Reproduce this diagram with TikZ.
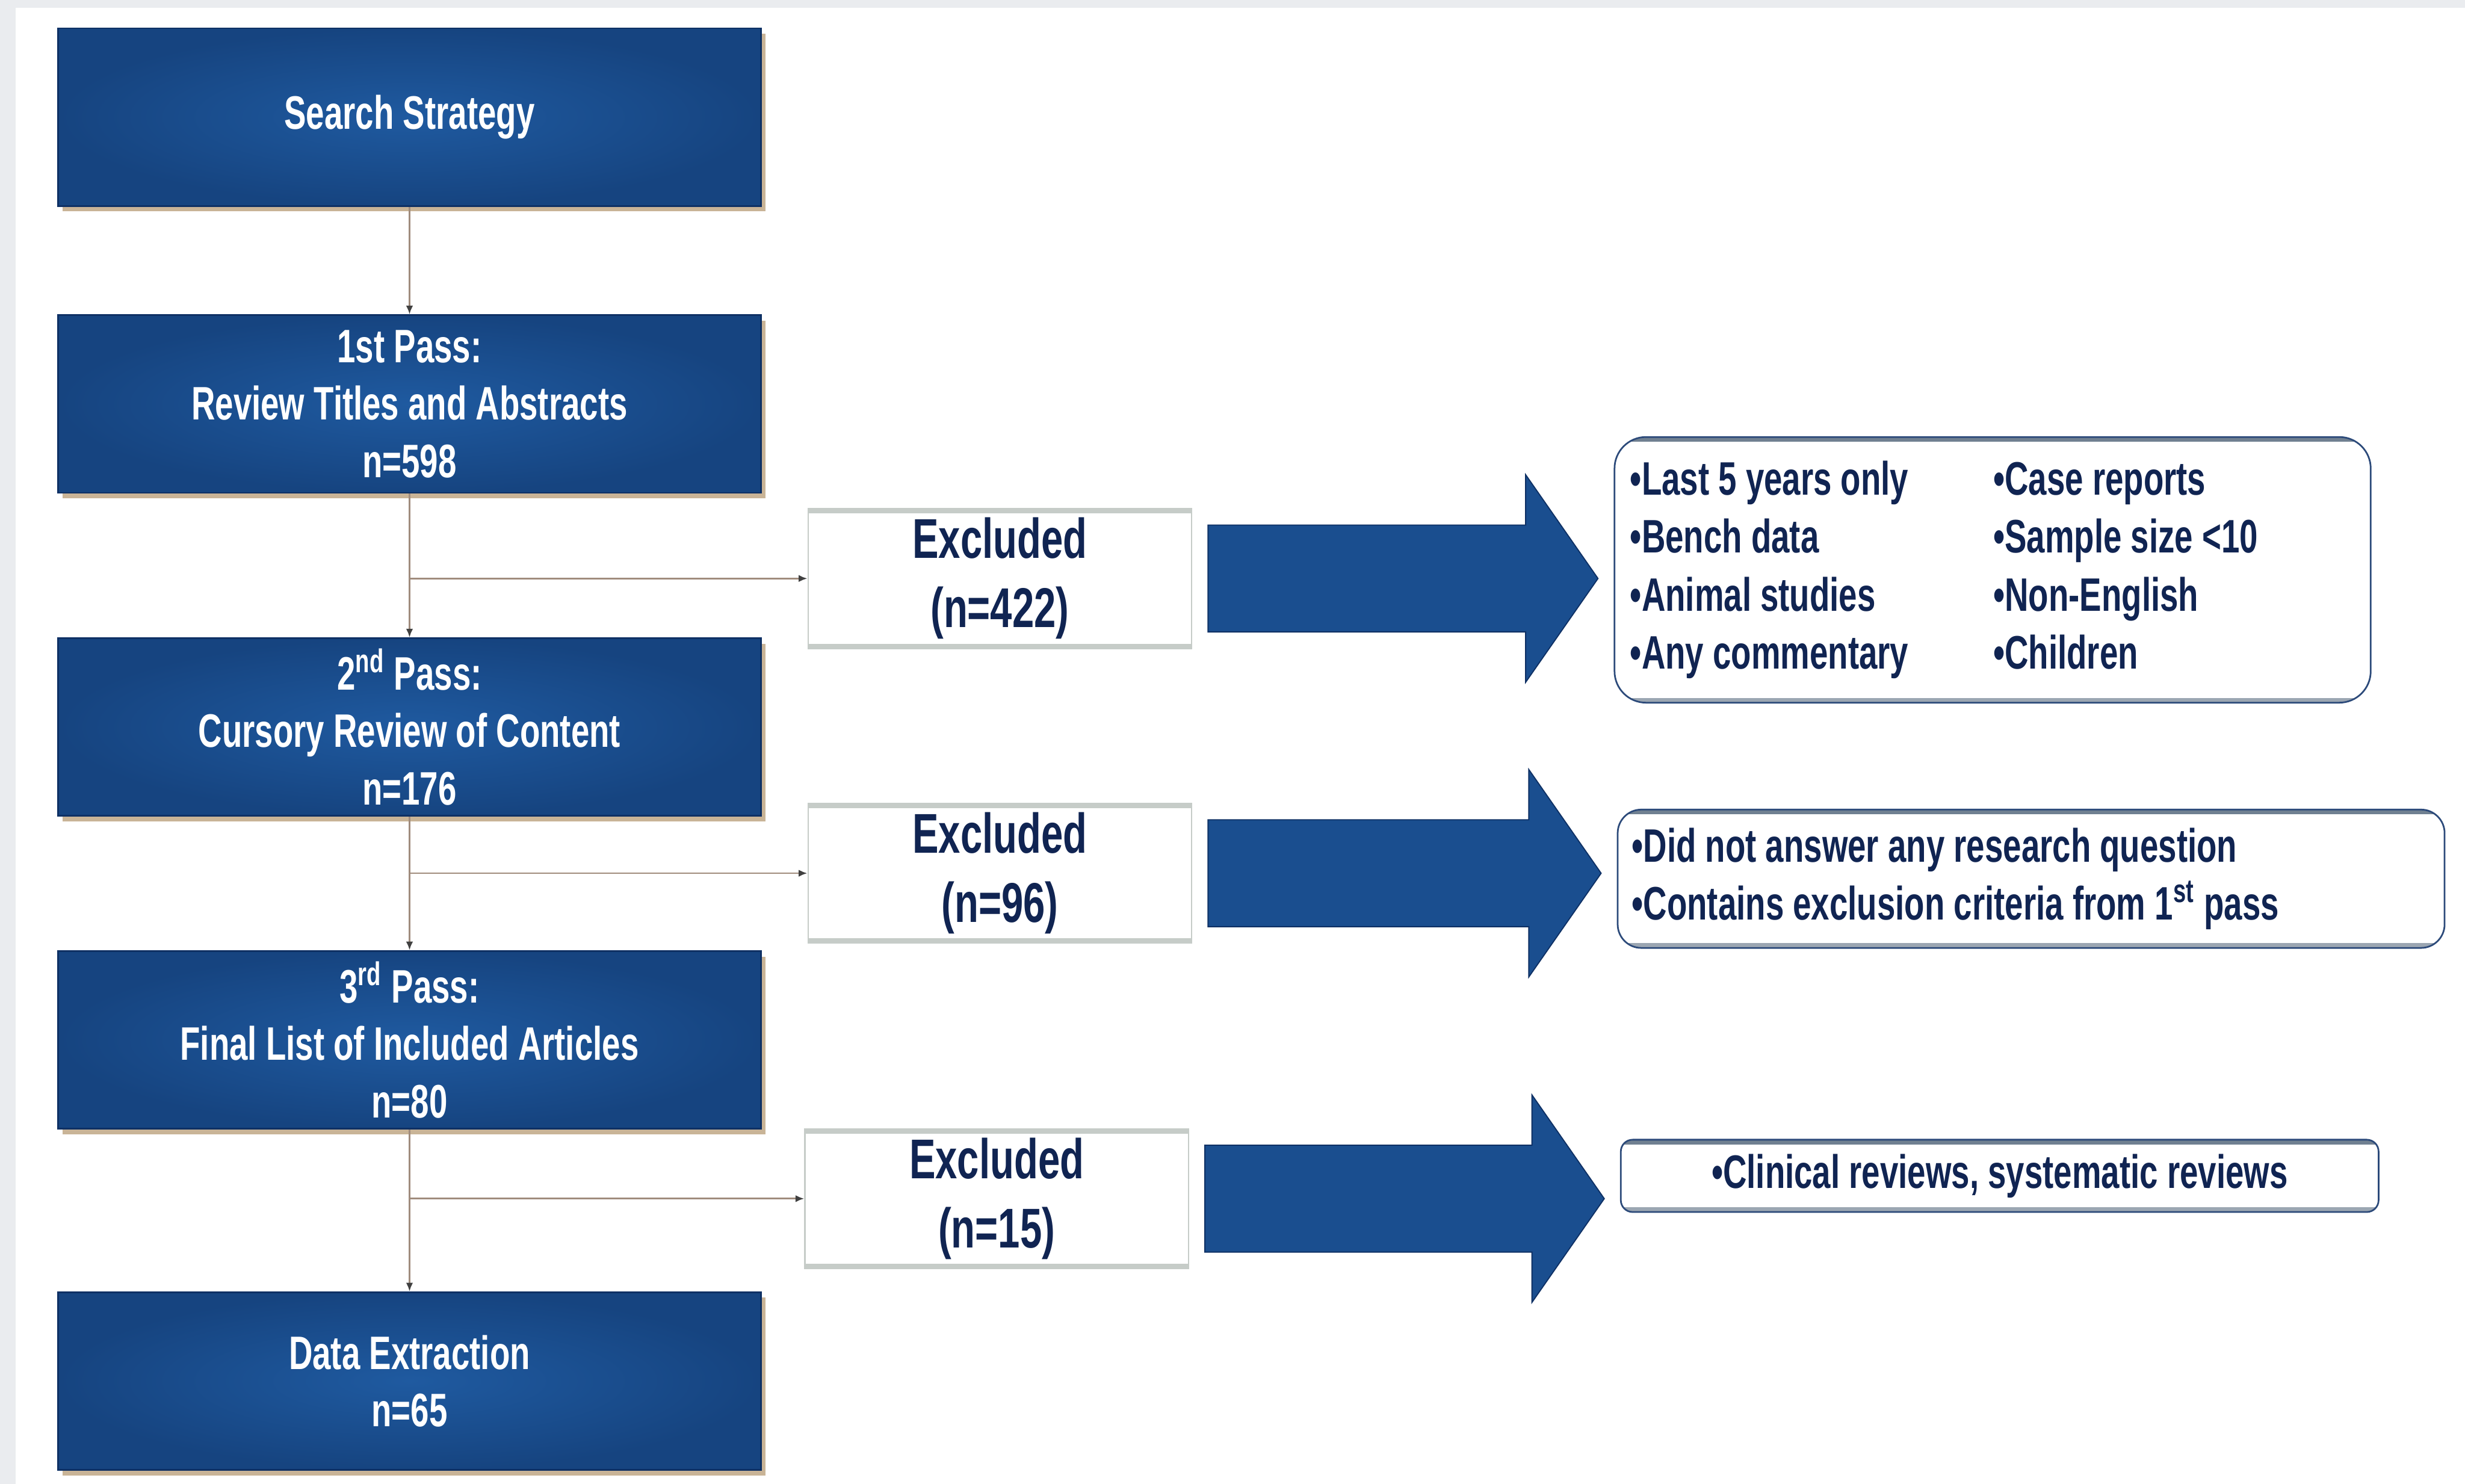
\documentclass[tikz,border=0pt]{standalone}
\usepackage{fontspec}
\setmainfont{Liberation Sans}[FakeStretch=0.7]
\usetikzlibrary{calc,positioning,arrows.meta,shadows}

% fat arrow from an excluded box to its reason box
\newcommand{\blockarrow}[2]{%
  \path[bigarrow] let \p1 = ($(#1.east)+(0.2,0)$), \p2 = ($(#1.east -| #2.west)+(-0.2,0)$) in
    (\x1, \y1+0.68cm) -- (\x2-0.92cm, \y1+0.68cm) -- (\x2-0.92cm, \y1+1.32cm) -- (\x2, \y1)
    -- (\x2-0.92cm, \y1-1.32cm) -- (\x2-0.92cm, \y1-0.68cm) -- (\x1, \y1-0.68cm) -- cycle;}
\newcommand{\firstcol}[1]{\makebox[4.62cm][l]{#1}}

\begin{document}
\begin{tikzpicture}[
    font=\bfseries,
    >=latex,
]

\definecolor{passColor}{RGB}{26, 78, 143}
\definecolor{passInner}{RGB}{31, 90, 160}
\definecolor{passOuter}{RGB}{22, 68, 128}
\definecolor{passEdge}{RGB}{14, 48, 100}
\definecolor{shadowColor}{RGB}{196, 172, 140}
\definecolor{linkColor}{RGB}{160, 140, 125}
\definecolor{textNavy}{RGB}{16, 36, 82}
\definecolor{barGray}{RGB}{198, 204, 200}
\definecolor{barSlate}{RGB}{112, 128, 145}
\definecolor{reasonEdge}{RGB}{44, 74, 122}
\definecolor{frameGray}{RGB}{234, 236, 239}

\tikzset{
    pass/.style = {rectangle, minimum width=8.94cm, minimum height=2.26cm, align=center,
                   draw=passEdge, line width=0.6pt, inner color=passInner, outer color=passOuter,
                   text=white, font={\fontsize{17}{20.8}\selectfont\bfseries},
                   drop shadow={shadow xshift=0.6mm, shadow yshift=-0.7mm, fill=shadowColor, opacity=0.9}},
    excluded/.style = {rectangle, minimum width=4.88cm, minimum height=1.76cm, align=center,
                   draw=barGray, line width=0.5pt, fill=white, text=textNavy,
                   font={\fontsize{20.3}{25}\selectfont\bfseries},
                   path picture={
                     \draw[barGray, line width=0.12cm] (path picture bounding box.north west) -- (path picture bounding box.north east);
                     \draw[barGray, line width=0.12cm] (path picture bounding box.south west) -- (path picture bounding box.south east);}},
    reason/.style = {rectangle, rounded corners=0.35cm, draw=reasonEdge, line width=0.6pt, fill=white,
                   text=textNavy, font={\fontsize{17}{21}\selectfont\bfseries},
                   execute at begin node={\spaceskip=\fontdimen2\font\relax},
                   path picture={
                     \draw[barSlate, line width=0.12cm] (path picture bounding box.north west) -- (path picture bounding box.north east);
                     \draw[barSlate!70, line width=0.12cm] (path picture bounding box.south west) -- (path picture bounding box.south east);}},
    link/.style = {draw=linkColor, line width=0.6pt, -{Latex[length=1.1mm, width=0.9mm, color=black!75]}},
    bigarrow/.style = {fill=passColor, draw=passEdge, line width=0.4pt},
}

\useasboundingbox (0,0) rectangle (31.36,18.88);
\fill[frameGray] (0,0) rectangle (31.36,18.88);
\fill[white] (0.2,0) rectangle (31.36,18.78);

% =========== SCREENING PASSES ===========
\node[pass] (search) at (5.21, 17.39) {Search Strategy};
\node[pass] (pass1) at (5.21, 13.74) {1st Pass:\\Review Titles and Abstracts\\n=598};
\node[pass] (pass2) at (5.21, 9.63) {2\textsuperscript{nd} Pass:\\Cursory Review of Content\\n=176};
\node[pass] (pass3) at (5.21, 5.65) {3\textsuperscript{rd} Pass:\\Final List of Included Articles\\n=80};
\node[pass] (extract) at (5.21, 1.31) {Data Extraction\\n=65};

\draw[link] (search) -- (pass1);
\draw[link] (pass1) -- (pass2);
\draw[link] (pass2) -- (pass3);
\draw[link] (pass3) -- (extract);

% =========== EXCLUDED ===========
\node[excluded] (ex1) at (12.72, 11.52) {Excluded\\(n=422)};
\node[excluded] (ex2) at (12.72, 7.77) {Excluded\\(n=96)};
\node[excluded] (ex3) at (12.68, 3.63) {Excluded\\(n=15)};

\draw[link] (pass1.south |- ex1.west) -- (ex1.west);
\draw[link] (pass2.south |- ex2.west) -- (ex2.west);
\draw[link] (pass3.south |- ex3.west) -- (ex3.west);

% =========== REASONS ===========
\node[reason, rounded corners=0.4cm, inner xsep=0.2cm, text width=9.22cm, minimum height=3.38cm, align=left]
    (why1) at (25.35, 11.63) {
    \firstcol{•Last 5 years only}•Case reports\\
    \firstcol{•Bench data}•Sample size <10\\
    \firstcol{•Animal studies}•Non-English\\
    \firstcol{•Any commentary}•Children
};
\node[reason, rounded corners=0.3cm, inner xsep=0.18cm, text width=10.16cm, minimum height=1.76cm, align=left]
    (why2) at (25.84, 7.7) {
    •Did not answer any research question\\
    •Contains exclusion criteria from 1\textsuperscript{st} pass
};
\node[reason, rounded corners=0.15cm, inner xsep=0.2cm, text width=9.24cm, minimum height=0.92cm, align=center]
    (why3) at (25.44, 3.92) {•Clinical reviews, systematic reviews};

\blockarrow{ex1}{why1}
\blockarrow{ex2}{why2}
\blockarrow{ex3}{why3}

\end{tikzpicture}
\end{document}
